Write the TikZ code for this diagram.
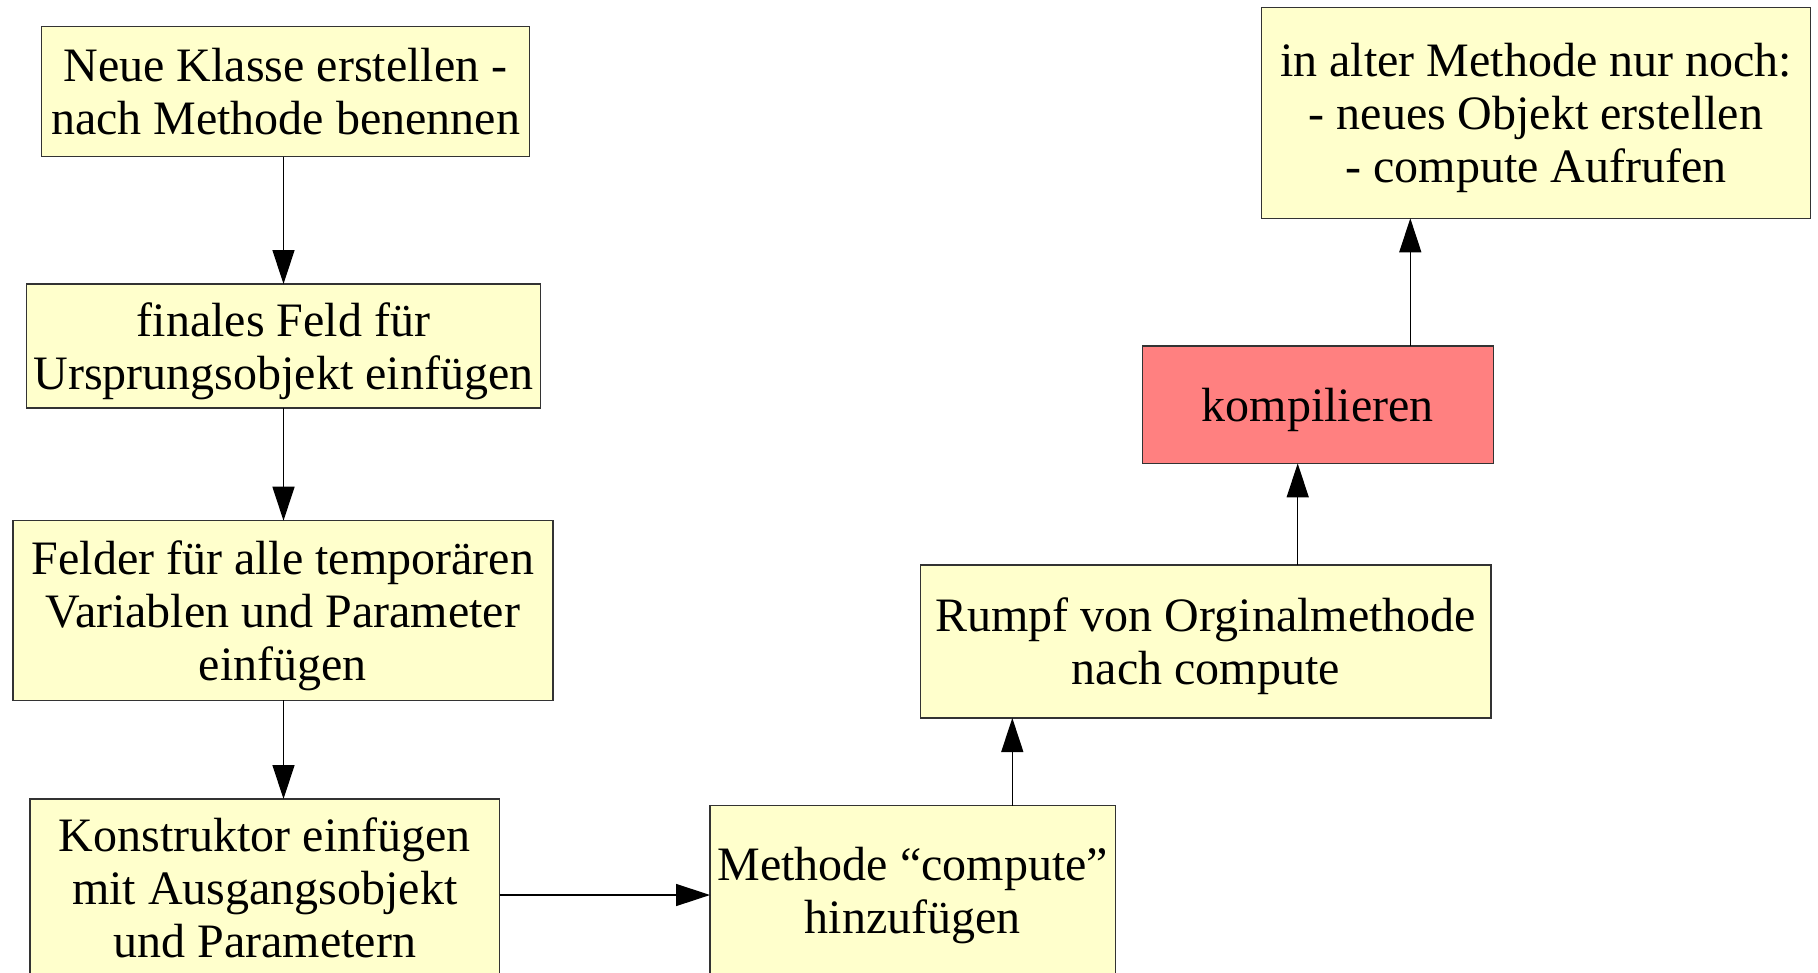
\documentclass[tikz,border=0pt]{standalone}
\usepackage{fontspec}
\setmainfont{Liberation Serif}
\usetikzlibrary{arrows.meta}

\definecolor{notefill}{HTML}{FFFFCC}
\definecolor{alertfill}{HTML}{FF8080}
\definecolor{edgegray}{HTML}{333333}

% last line of a box: keep descenders from shifting the text block upwards
\newcommand{\flatline}[1]{\raisebox{0pt}[\height][0pt]{#1}}

\tikzset{
  stepbox/.style={draw=edgegray, line width=1.5pt, fill=notefill,
    inner sep=0pt, outer sep=0pt, align=center,
    font=\fontsize{48}{53}\selectfont},
  alertbox/.style={stepbox, fill=alertfill},
  flow/.style={line width=1.3pt, draw=black,
    -{Triangle[length=34pt,width=22pt]}}
}

\begin{document}
\begin{tikzpicture}[x=1pt,y=-1pt]
  \useasboundingbox (0,0) rectangle (1818,972);
  \clip (0,0) rectangle (1818,972);

  % left column of steps
  \node[stepbox, minimum width=487.8pt, minimum height=130pt] (A) at (285.6,91.7)
    {Neue Klasse erstellen -\\\flatline{nach Methode benennen}};
  \node[stepbox, minimum width=513.6pt, minimum height=123.7pt] (B) at (283.5,345.9)
    {finales Feld für\\\flatline{Ursprungsobjekt einfügen}};
  \node[stepbox, minimum width=540.2pt, minimum height=179.6pt] (C) at (282.9,610.5)
    {Felder für alle temporären\\Variablen und Parameter\\\flatline{einfügen}};
  \node[stepbox, minimum width=469.4pt, minimum height=178pt] (D) at (264.8,888)
    {Konstruktor einfügen\\mit Ausgangsobjekt\\\flatline{und Parametern}};

  % rising chain on the right
  \node[stepbox, minimum width=405.3pt, minimum height=169.6pt] (E) at (912.7,890.5)
    {Methode “compute”\\\flatline{hinzufügen}};
  \node[stepbox, minimum width=570.5pt, minimum height=153pt] (F) at (1205.8,641.5)
    {Rumpf von Orginalmethode\\\flatline{nach compute}};
  \node[alertbox, minimum width=351pt, minimum height=117.3pt] (G) at (1317.8,404.7)
    {\flatline{kompilieren}};
  \node[stepbox, minimum width=549.3pt, minimum height=211pt] (H) at (1536,112.8)
    {in alter Methode nur noch:\\- neues Objekt erstellen\\\flatline{- compute Aufrufen}};

  % connector guide positions
  \coordinate (colx) at (283.5,0);
  \coordinate (row) at (0,895);
  \coordinate (ef) at (1012.3,0);
  \coordinate (fg) at (1297.7,0);
  \coordinate (gh) at (1410.3,0);

  % connectors
  \draw[flow] (A.south -| colx) -- (B.north -| colx);
  \draw[flow] (B.south -| colx) -- (C.north -| colx);
  \draw[flow] (C.south -| colx) -- (D.north -| colx);
  \draw[flow] (D.east |- row) -- (E.west |- row);
  \draw[flow] (E.north -| ef) -- (F.south -| ef);
  \draw[flow] (F.north -| fg) -- (G.south -| fg);
  \draw[flow] (G.north -| gh) -- (H.south -| gh);
\end{tikzpicture}
\end{document}
